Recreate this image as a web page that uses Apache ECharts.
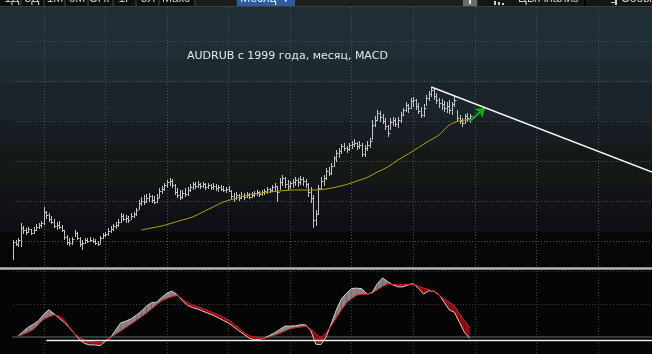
<!DOCTYPE html>
<html>
<head>
<meta charset="utf-8">
<script src="https://cdn.jsdelivr.net/npm/echarts@6/dist/echarts.min.js"></script>
<style>
  html, body { margin: 0; padding: 0; background: #050505; }
  #chart { width: 652px; height: 354px; }
</style>
</head>
<body>
<div id="chart"></div>
<script>
// месяцы с января 1999
var months = [];
for (var n = 0; n < 250; n++) {
  var yy = 1999 + Math.floor(n / 12), mm = n % 12 + 1;
  months.push(yy + '-' + (mm < 10 ? '0' + mm : mm));
}

// AUDRUB, месячные бары (с янв. 1999)
var priceHigh = [
  15.13,15.13,15.38,17.25,16.88,16.63,16.75,16.5,16.75,17.13,
  17.25,17.5,19.25,18.75,18.5,18.13,17.75,17.38,17.5,17.0,
  16.38,15.75,15.38,15.5,16.38,16.13,15.5,15.13,15.38,15.38,
  15.5,15.38,15.25,15.0,15.63,16.0,16.13,16.63,16.88,17.13,
  17.38,17.75,18.5,18.38,18.25,18.13,18.5,18.63,19.13,20.13,
  20.5,20.75,20.88,21.0,20.75,20.63,20.88,21.63,21.88,22.25,
  22.63,22.88,22.75,22.13,21.63,21.38,21.38,21.63,21.75,22.13,
  22.38,22.38,22.5,22.25,22.38,22.25,22.25,22.13,22.25,22.13,
  22.0,22.0,21.88,21.75,21.88,21.38,21.0,21.13,20.88,21.13,
  21.0,21.13,21.0,21.13,21.25,21.38,21.25,21.38,21.5,21.75,
  21.63,22.0,22.25,21.88,22.88,23.25,23.0,22.63,22.5,22.75,
  23.0,22.88,23.13,23.0,22.75,22.25,21.75,20.75,18.88,22.0,
  23.0,23.25,24.13,24.25,24.75,25.63,26.38,26.63,27.13,27.25,
  26.88,27.25,27.5,27.75,27.38,27.5,27.25,27.0,27.5,27.88,
  30.13,30.63,31.38,31.25,30.88,30.38,29.5,30.38,30.5,30.38,
  30.5,31.13,31.63,32.38,32.13,32.88,33.0,32.75,32.25,31.75,
  32.13,33.25,33.75,34.25,34.0,33.5,32.88,32.75,32.5,32.38,
  32.63,32.38,33.25,31.38,30.75,30.38,30.88,31.0,30.88
];
var priceLow = [
  12.63,14.38,14.25,14.25,15.88,15.75,16.0,15.75,15.88,16.25,
  16.5,16.63,17.0,17.75,17.38,17.13,16.63,16.38,16.5,16.13,
  15.13,14.5,14.38,14.5,15.5,15.13,14.25,13.88,14.63,14.75,
  14.88,14.75,14.5,14.38,14.63,15.25,15.5,15.63,16.0,16.25,
  16.5,16.75,17.25,17.5,17.25,17.25,17.63,17.88,18.13,18.88,
  19.38,19.5,19.75,19.88,19.75,19.63,19.75,20.38,20.88,21.25,
  21.63,21.88,21.63,20.75,20.38,20.13,20.25,20.5,20.63,21.13,
  21.38,21.5,21.63,21.5,21.63,21.38,21.5,21.38,21.38,21.25,
  21.13,21.25,21.13,21.0,21.13,20.13,19.88,20.13,20.0,20.25,
  20.13,20.38,20.25,20.38,20.5,20.63,20.5,20.63,20.75,20.88,
  21.0,21.13,21.25,19.88,21.38,21.88,21.63,21.38,21.5,21.63,
  21.88,21.75,22.0,21.88,21.63,20.5,19.75,16.63,16.88,18.25,
  21.38,21.88,22.63,23.13,23.25,24.25,24.88,25.38,25.88,26.25,
  26.0,26.25,26.5,26.75,26.38,26.5,25.5,25.5,26.25,26.63,
  27.63,29.25,30.0,29.88,29.63,28.88,28.0,28.88,29.38,29.25,
  29.13,29.75,30.63,31.13,31.0,31.5,31.75,31.38,30.88,30.38,
  30.5,31.88,32.5,33.0,32.63,32.13,31.63,31.38,31.13,31.0,
  30.88,30.75,31.75,29.88,29.63,29.25,29.63,29.88,29.75
];
var priceClose = [
  14.88,14.63,15.13,16.63,16.38,16.13,16.5,16.0,16.38,16.75,
  17.0,17.25,18.63,18.25,17.75,17.38,16.88,17.0,16.75,16.38,
  15.5,14.88,14.75,15.25,16.0,15.38,14.63,14.75,15.13,15.0,
  15.13,15.0,14.75,14.63,15.38,15.75,15.88,16.25,16.5,16.88,
  17.0,17.38,18.13,17.75,17.88,17.63,18.13,18.38,18.88,19.75,
  20.0,19.88,20.38,20.63,20.13,19.88,20.38,21.25,21.5,22.0,
  22.38,22.5,22.0,21.13,20.75,20.5,21.0,20.88,21.38,21.75,
  22.13,21.88,22.13,21.88,22.13,21.75,22.0,21.75,21.88,21.63,
  21.75,21.5,21.38,21.5,21.25,20.63,20.38,20.75,20.38,20.63,
  20.5,20.75,20.5,20.75,21.0,21.13,20.88,21.13,21.25,21.5,
  21.38,21.75,21.88,21.13,22.38,22.88,22.13,21.88,22.25,22.38,
  22.63,22.38,22.75,22.5,22.13,21.13,20.38,17.63,18.38,21.63,
  22.5,22.88,23.75,23.5,24.38,25.38,26.0,26.25,26.88,26.63,
  26.5,27.0,27.13,27.25,26.88,27.0,25.88,26.63,27.0,27.5,
  29.5,30.13,31.0,30.5,30.0,29.38,28.5,29.88,30.13,29.63,
  30.13,30.75,31.38,32.0,31.63,32.5,32.63,31.88,31.25,30.75,
  31.63,32.88,33.38,33.88,33.13,32.63,32.25,32.13,31.63,31.88,
  31.38,32.13,32.63,30.38,30.0,29.75,30.63,30.38,30.63
];

// скользящая средняя (жёлтая)
var maIdx = [50,54,58,62,66,70,74,78,82,86,90,94,98,102,106,110,114,118,122,126,130,134,138,142,146,150,154,158,162,166,170,174,178];
var maVal = [16.38,16.63,16.88,17.25,17.63,18.0,18.63,19.25,19.88,20.25,20.63,20.88,21.06,21.19,21.31,21.38,21.38,21.38,21.5,21.75,22.06,22.5,22.94,23.63,24.25,25.13,25.88,26.69,27.5,28.25,29.5,30.0,30.19];

// линия тренда и стрелка
var trendIdx = [163, 249];
var trendVal = [34.25, 23.63];
var arrowIdx = [178, 184];
var arrowVal = [30.0, 31.66];

// MACD (каждые 2 месяца, с марта 1999)
var macdIdx = [];
for (var k = 2; k <= 178; k += 2) macdIdx.push(k);
var macdVal = [
  0.03,0.17,0.30,0.39,0.50,0.69,0.83,0.70,0.57,0.44,
  0.28,0.10,-0.09,-0.20,-0.24,-0.24,-0.26,-0.13,-0.02,0.21,
  0.43,0.48,0.55,0.66,0.78,0.94,1.04,1.06,1.20,1.33,
  1.39,1.28,1.10,0.96,0.89,0.85,0.78,0.72,0.66,0.58,
  0.50,0.42,0.31,0.19,0.08,-0.03,-0.09,-0.07,-0.03,0.05,
  0.13,0.23,0.33,0.33,0.34,0.37,0.37,0.20,-0.22,-0.23,
  0.0,0.40,0.82,1.16,1.33,1.47,1.48,1.46,1.30,1.35,
  1.62,1.79,1.68,1.58,1.52,1.52,1.58,1.62,1.47,1.30,
  1.40,1.39,1.28,1.06,0.82,0.75,0.44,0.13,-0.04
];
var signalVal = [
  0.02,0.08,0.15,0.23,0.39,0.54,0.61,0.67,0.64,0.53,
  0.30,0.10,-0.02,-0.10,-0.13,-0.16,-0.18,-0.10,-0.02,0.08,
  0.18,0.29,0.39,0.50,0.61,0.72,0.85,0.98,1.10,1.17,
  1.22,1.26,1.15,1.04,0.97,0.92,0.86,0.80,0.74,0.67,
  0.60,0.52,0.40,0.28,0.14,0.04,0.00,-0.04,-0.04,0.00,
  0.05,0.11,0.18,0.25,0.28,0.30,0.33,0.24,0.10,-0.03,
  0.14,0.33,0.58,0.82,1.04,1.16,1.27,1.29,1.30,1.33,
  1.43,1.53,1.61,1.60,1.58,1.59,1.60,1.60,1.54,1.48,
  1.44,1.38,1.27,1.16,1.06,0.95,0.71,0.49,0.29
];
var levelIdx = [13, 249];
var levelVal = [-0.106, -0.106];

var chart = echarts.init(document.getElementById('chart'));

var bars = [];
for (var i = 0; i < priceClose.length; i++) {
  bars.push([i, priceHigh[i], priceLow[i], priceClose[i]]);
}
function pairs(xs, ys) {
  var out = [];
  for (var j = 0; j < xs.length; j++) out.push([xs[j], ys[j]]);
  return out;
}
var fillData = [];
for (var f = 0; f < macdIdx.length; f++) fillData.push([macdIdx[f], macdVal[f], signalVal[f]]);

function renderBar(params, api) {
  var idx = api.value(0);
  var top = api.coord([idx, api.value(1)]);
  var bot = api.coord([idx, api.value(2)]);
  var cls = api.coord([idx, api.value(3)]);
  var x = Math.round(top[0]) + 0.5;
  var yc = Math.round(cls[1]) + 0.5;
  return {
    type: 'group',
    children: [
      { type: 'line', shape: { x1: x, y1: top[1], x2: x, y2: bot[1] }, style: { stroke: '#c4c4c4', lineWidth: 1 } },
      { type: 'line', shape: { x1: x, y1: yc, x2: x + 2, y2: yc }, style: { stroke: '#c4c4c4', lineWidth: 1 } }
    ]
  };
}

function renderFill(params, api) {
  var k = params.dataIndex;
  if (k >= macdIdx.length - 1) return null;
  var a = macdIdx[k], b = macdIdx[k + 1];
  var m1 = api.coord([a, macdVal[k]]), m2 = api.coord([b, macdVal[k + 1]]);
  var s1 = api.coord([a, signalVal[k]]), s2 = api.coord([b, signalVal[k + 1]]);
  var d1 = macdVal[k] - signalVal[k], d2 = macdVal[k + 1] - signalVal[k + 1];
  var up = '#858585', dn = '#8e0f16';
  if (d1 * d2 >= 0) {
    return { type: 'polygon', shape: { points: [m1, m2, s2, s1] }, style: { fill: (d1 + d2) >= 0 ? up : dn } };
  }
  var t = d1 / (d1 - d2);
  var p = [m1[0] + t * (m2[0] - m1[0]), m1[1] + t * (m2[1] - m1[1])];
  return {
    type: 'group',
    children: [
      { type: 'polygon', shape: { points: [m1, p, s1] }, style: { fill: d1 > 0 ? up : dn } },
      { type: 'polygon', shape: { points: [p, m2, s2] }, style: { fill: d2 > 0 ? up : dn } }
    ]
  };
}

var vGrid = function (index) { return index % 24 === 12; };
var tb = '12px "Liberation Sans", sans-serif';

// кнопки панели (обрезаны сверху)
var buttons = [[0, 20], [22, 21], [45, 19], [66, 21], [89, 23], [114, 21], [137, 21], [160, 34]];
var btnText = [['1Д', 12], ['3Д', 32], ['1М', 55], ['6М', 77], ['СНГ', 101], ['1Г', 125], ['5Л', 148], ['Макс', 176]];
var gfx = [
  { type: 'rect', z: -10, shape: { x: 0, y: 7, width: 652, height: 259 },
    style: { fill: new echarts.graphic.LinearGradient(0, 0, 0, 1, [
      { offset: 0, color: '#1f2d34' }, { offset: 0.2, color: '#1f2d34' },
      { offset: 0.205, color: '#1d2a30' }, { offset: 0.29, color: '#1d2a30' },
      { offset: 0.295, color: '#1b242a' }, { offset: 0.43, color: '#1b242a' },
      { offset: 0.437, color: '#171d22' }, { offset: 0.53, color: '#171d22' },
      { offset: 0.535, color: '#141916' }, { offset: 0.685, color: '#141916' },
      { offset: 0.69, color: '#121319' }, { offset: 0.78, color: '#121319' },
      { offset: 0.785, color: '#0f0f16' }, { offset: 0.865, color: '#0f0f16' },
      { offset: 0.87, color: '#070708' }, { offset: 1, color: '#060607' }
    ]) } },
  { type: 'rect', z: 50, shape: { x: 0, y: 0, width: 652, height: 6 }, style: { fill: '#2a2a2a' } },
  { type: 'rect', z: 50, shape: { x: 0, y: 6, width: 652, height: 1 }, style: { fill: '#3e3e3e' } },
  { type: 'rect', z: 50, shape: { x: 196, y: 0, width: 40, height: 6 }, style: { fill: '#1c1c1c' } },
  { type: 'rect', z: 51, shape: { x: 237, y: 0, width: 58, height: 6 }, style: { fill: '#2c5d9e' } },
  { type: 'text', z: 52, style: { text: 'Месяц ▼', x: 266, y: -1, align: 'center', verticalAlign: 'middle', font: tb, fill: '#f0f0f0' } },
  { type: 'rect', z: 50, shape: { x: 295, y: 0, width: 168, height: 6 }, style: { fill: '#1e1e1e' } },
  { type: 'rect', z: 51, shape: { x: 463, y: 0, width: 14, height: 6 }, style: { fill: '#6a6a6a' } },
  { type: 'rect', z: 52, shape: { x: 469, y: 0, width: 2, height: 4 }, style: { fill: '#e0e0e0' } },
  { type: 'rect', z: 51, shape: { x: 478, y: 0, width: 106, height: 6 }, style: { fill: '#151515' } },
  { type: 'rect', z: 52, shape: { x: 494, y: 1, width: 2, height: 4 }, style: { fill: '#d0d0d0' } },
  { type: 'rect', z: 52, shape: { x: 498, y: 2, width: 2, height: 3 }, style: { fill: '#d0d0d0' } },
  { type: 'rect', z: 52, shape: { x: 502, y: 3, width: 2, height: 2 }, style: { fill: '#d0d0d0' } },
  { type: 'text', z: 52, style: { text: 'ЦБ/Анализ', x: 518, y: -1, align: 'left', verticalAlign: 'middle', font: tb, fill: '#c8c8c8' } },
  { type: 'rect', z: 51, shape: { x: 584, y: 0, width: 2, height: 6 }, style: { fill: '#000000' } },
  { type: 'rect', z: 51, shape: { x: 586, y: 0, width: 66, height: 6 }, style: { fill: '#151515' } },
  { type: 'rect', z: 52, shape: { x: 615, y: 0, width: 2, height: 5 }, style: { fill: '#d0d0d0' } },
  { type: 'rect', z: 52, shape: { x: 611, y: 2, width: 4, height: 1 }, style: { fill: '#d0d0d0' } },
  { type: 'text', z: 52, style: { text: 'События', x: 621, y: -1, align: 'left', verticalAlign: 'middle', font: tb, fill: '#c8c8c8' } },
  // разделитель панелей
  { type: 'rect', z: 50, shape: { x: 0, y: 267, width: 652, height: 3 }, style: { fill: '#8a8a8a' } },
  { type: 'rect', z: 51, shape: { x: 0, y: 268, width: 652, height: 1 }, style: { fill: '#b4b4b4' } },
  { type: 'text', z: 20, style: { text: 'AUDRUB с 1999 года, месяц, MACD', x: 187, y: 56, align: 'left', verticalAlign: 'middle', font: '11px "DejaVu Sans", sans-serif', fill: '#e8e8e8' } }
];
buttons.forEach(function (b) {
  gfx.push({ type: 'rect', z: 51, shape: { x: b[0], y: 0, width: b[1], height: 6 }, style: { fill: '#0e0e0e' } });
});
btnText.forEach(function (t) {
  gfx.push({ type: 'text', z: 52, style: { text: t[0], x: t[1], y: -1, align: 'center', verticalAlign: 'middle', font: tb, fill: '#c4c4c4' } });
});

var option = {
  backgroundColor: '#050505',
  animation: false,
  graphic: { elements: gfx },
  grid: [
    { left: 13, top: 7, width: 640, height: 259 },
    { left: 13, top: 271, width: 640, height: 83 }
  ],
  xAxis: [
    { type: 'category', gridIndex: 0, data: months, boundaryGap: false,
      axisLine: { show: false }, axisTick: { show: false }, axisLabel: { show: false },
      splitLine: { show: true, interval: vGrid, lineStyle: { color: '#46545b', type: [1, 2] } } },
    { type: 'category', gridIndex: 1, data: months, boundaryGap: false,
      axisLine: { show: true, onZero: true, lineStyle: { color: '#323a3a', width: 2 } },
      axisTick: { show: false }, axisLabel: { show: false },
      splitLine: { show: true, interval: vGrid, lineStyle: { color: '#3a3f42', type: [1, 2] } } }
  ],
  yAxis: [
    { type: 'value', gridIndex: 0, min: 11.875, max: 44.25, splitNumber: 7,
      axisLine: { show: false }, axisTick: { show: false }, axisLabel: { show: false },
      splitLine: { show: true, showMinLine: false, showMaxLine: false, lineStyle: { color: '#46545b', type: [1, 2] } } },
    { type: 'value', gridIndex: 1, min: -0.515, max: 2.0, splitNumber: 3,
      axisLine: { show: false }, axisTick: { show: false }, axisLabel: { show: false },
      splitLine: { show: true, showMinLine: false, showMaxLine: true, lineStyle: { color: '#3a3f42', type: [1, 2] } } }
  ],
  series: [
    { type: 'custom', name: 'AUDRUB', xAxisIndex: 0, yAxisIndex: 0, clip: true,
      renderItem: renderBar, encode: { x: 0, y: [1, 2, 3] }, data: bars, z: 3 },
    { type: 'line', name: 'MA', xAxisIndex: 0, yAxisIndex: 0, data: pairs(maIdx, maVal),
      smooth: 0.3, showSymbol: false, lineStyle: { color: '#b3a20e', width: 1 }, z: 4,
      markLine: {
        silent: true, symbol: ['none', 'arrow'], symbolSize: 9, label: { show: false },
        lineStyle: { color: '#1fa51f', width: 2, type: 'solid' },
        data: [[{ coord: [arrowIdx[0], arrowVal[0]] }, { coord: [arrowIdx[1], arrowVal[1]] }]]
      } },
    { type: 'line', name: 'trend', xAxisIndex: 0, yAxisIndex: 0, data: pairs(trendIdx, trendVal),
      showSymbol: false, lineStyle: { color: '#f2f2f2', width: 1.5 }, z: 5 },
    { type: 'custom', name: 'fill', xAxisIndex: 1, yAxisIndex: 1, clip: true,
      renderItem: renderFill, encode: { x: 0, y: [1, 2] }, data: fillData, z: 2 },
    { type: 'line', name: 'MACD', xAxisIndex: 1, yAxisIndex: 1, data: pairs(macdIdx, macdVal),
      showSymbol: false, lineStyle: { color: '#cfcfcf', width: 1 }, z: 3 },
    { type: 'line', name: 'Signal', xAxisIndex: 1, yAxisIndex: 1, data: pairs(macdIdx, signalVal),
      showSymbol: false, lineStyle: { color: '#e3141c', width: 1 }, z: 4 },
    { type: 'line', name: 'level', xAxisIndex: 1, yAxisIndex: 1, data: pairs(levelIdx, levelVal),
      showSymbol: false, lineStyle: { color: '#ececec', width: 1.5 }, z: 5 }
  ]
};
chart.setOption(option);
</script>
</body>
</html>
